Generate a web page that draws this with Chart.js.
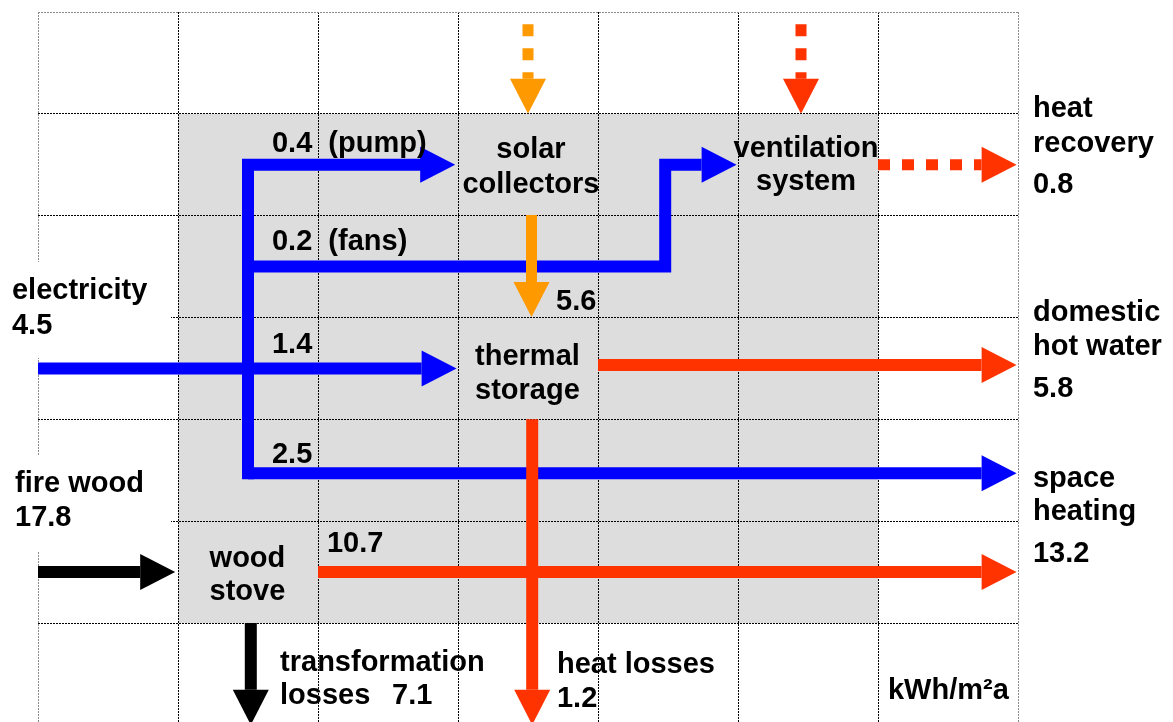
<!DOCTYPE html>
<html>
<head>
<meta charset="utf-8">
<script src="https://cdn.jsdelivr.net/npm/chart.js@4.4.1/dist/chart.umd.min.js"></script>
<style>
  html, body { margin: 0; padding: 0; background: #fff; }
</style>
</head>
<body>
<canvas id="flowChart" width="1173" height="722"></canvas>
<script>
// energy flows in kWh/m²a
const inputNames = ['electricity', 'fire wood'];
const inputValues = [4.5, 17.8];
const outputNames = [['heat', 'recovery'], ['domestic', 'hot water'], ['space', 'heating']];
const outputValues = [0.8, 5.8, 13.2];
const flowNames = ['(pump)', '(fans)'];
const flowValues = [0.4, 0.2, 1.4, 2.5, 5.6, 10.7];
const lossNames = ['transformation', 'losses', 'heat losses'];
const lossValues = [7.1, 1.2];
const unitNames = [['solar', 'collectors'], ['ventilation', 'system'], ['thermal', 'storage'], ['wood', 'stove']];

// flow paths, in grid cells (column, row), last point = arrow tip
const recoveryPath = [[6.0, 1.5], [6.99, 1.5]];
const ventInPath = [[5.45, 0.12], [5.45, 1.0]];
const hotWaterPath = [[4.0, 3.467], [6.99, 3.467]];
const heatLossPath = [[3.53, 4.0], [3.53, 7.0]];
const stovePath = [[2.0, 5.5], [6.99, 5.5]];
const solarInPath = [[3.5, 0.12], [3.5, 1.0]];
const solarOutPath = [[3.525, 1.993], [3.525, 2.995]];
const pumpPath = [[1.5, 4.53], [1.5, 1.5], [2.98, 1.5]];
const fansPath = [[1.5, 2.5], [4.48, 2.5], [4.48, 1.5], [4.99, 1.5]];
const elecPath = [[0, 3.5], [2.99, 3.5]];
const heatingPath = [[1.5, 4.53], [6.99, 4.53]];
const woodPath = [[0, 5.5], [0.98, 5.5]];
const woodLossPath = [[1.52, 6.0], [1.52, 7.0]];

const BLUE = '#0000ff', RED = '#ff3300', ORANGE = '#ff9900', BLACK = '#000000';
const HEAD_LEN = 35, HEAD_HALF = 18;
const FONT = 'bold 29px "Liberation Sans", Arial, sans-serif';

const v = n => n.toFixed(1);

// text: [text, col, row (baseline), align]
const textItems = [
  [v(flowValues[0]) + '  ' + flowNames[0], 1.671, 1.375, 'left'],
  [unitNames[0][0], 3.521, 1.434, 'center'],
  [unitNames[0][1], 3.521, 1.777, 'center'],
  [unitNames[1][0], 5.486, 1.424, 'center'],
  [unitNames[1][1], 5.486, 1.748, 'center'],
  [outputNames[0][0], 7.107, 1.031, 'left'],
  [outputNames[0][1], 7.107, 1.375, 'left'],
  [v(outputValues[0]), 7.107, 1.777, 'left'],
  [v(flowValues[1]) + '  ' + flowNames[1], 1.671, 2.337, 'left'],
  [inputNames[0], -0.186, 2.818, 'left'],
  [v(inputValues[0]), -0.186, 3.162, 'left'],
  [v(flowValues[4]), 3.7, 2.926, 'left'],
  [v(flowValues[2]), 1.671, 3.349, 'left'],
  [unitNames[2][0], 3.496, 3.467, 'center'],
  [unitNames[2][1], 3.496, 3.80, 'center'],
  [outputNames[1][0], 7.107, 3.034, 'left'],
  [outputNames[1][1], 7.107, 3.368, 'left'],
  [v(outputValues[1]), 7.107, 3.781, 'left'],
  [v(flowValues[3]), 1.671, 4.429, 'left'],
  [inputNames[1], -0.164, 4.714, 'left'],
  [v(inputValues[1]), -0.164, 5.048, 'left'],
  [outputNames[2][0], 7.107, 4.665, 'left'],
  [outputNames[2][1], 7.107, 4.989, 'left'],
  [v(outputValues[2]), 7.107, 5.401, 'left'],
  [unitNames[3][0], 1.496, 5.45, 'center'],
  [unitNames[3][1], 1.496, 5.774, 'center'],
  [v(flowValues[5]), 2.064, 5.303, 'left'],
  [lossNames[0], 1.729, 6.472, 'left'],
  [lossNames[1], 1.729, 6.796, 'left'],
  [v(lossValues[0]), 2.529, 6.796, 'left'],
  [lossNames[2], 3.707, 6.491, 'left'],
  [v(lossValues[1]), 3.707, 6.825, 'left'],
  ['kWh/m²a', 6.071, 6.747, 'left']
];
// white boxes behind the input labels: [col0, row0, col1, row1]
const labelBoxes = [[-0.236, 2.455, 0.95, 3.398], [-0.236, 4.35, 0.95, 5.293]];

function flow(path, color, extra) {
  return Object.assign({
    data: path.map(p => ({ x: p[0], y: p[1] })),
    showLine: true,
    borderColor: color,
    backgroundColor: color,
    borderWidth: 12,
    pointRadius: 0,
    borderJoinStyle: 'miter',
    tension: 0,
    fill: false,
    arrow: true
  }, extra);
}

const dashed = { borderDash: [12, 12], borderWidth: 11 };

// gray system box behind the grid
const systemBox = {
  id: 'systemBox',
  beforeDraw(chart) {
    const { ctx, scales: { x, y } } = chart;
    ctx.save();
    ctx.fillStyle = '#dddddd';
    const x0 = x.getPixelForValue(1), y0 = y.getPixelForValue(1);
    ctx.fillRect(x0, y0, x.getPixelForValue(6) - x0, y.getPixelForValue(6) - y0);
    ctx.restore();
  }
};

// line ends at the arrow base, triangle drawn up to the tip
const arrowHeads = {
  id: 'arrowHeads',
  afterDatasetUpdate(chart, args) {
    const ds = chart.data.datasets[args.index];
    const pts = args.meta.data;
    if (!ds.arrow || pts.length < 2) return;
    const tip = pts[pts.length - 1], prev = pts[pts.length - 2];
    const len = Math.hypot(tip.x - prev.x, tip.y - prev.y);
    const ux = (tip.x - prev.x) / len, uy = (tip.y - prev.y) / len;
    args.meta.arrowTip = { x: tip.x, y: tip.y, ux: ux, uy: uy };
    tip.x -= ux * HEAD_LEN;
    tip.y -= uy * HEAD_LEN;
  },
  afterDatasetsDraw(chart) {
    const ctx = chart.ctx;
    chart.data.datasets.forEach((ds, i) => {
      const t = chart.getDatasetMeta(i).arrowTip;
      if (!t) return;
      const bx = t.x - t.ux * HEAD_LEN, by = t.y - t.uy * HEAD_LEN;
      ctx.save();
      ctx.fillStyle = ds.borderColor;
      ctx.beginPath();
      ctx.moveTo(t.x, t.y);
      ctx.lineTo(bx - t.uy * HEAD_HALF, by + t.ux * HEAD_HALF);
      ctx.lineTo(bx + t.uy * HEAD_HALF, by - t.ux * HEAD_HALF);
      ctx.closePath();
      ctx.fill();
      ctx.restore();
    });
  }
};

const labels = {
  id: 'labels',
  afterDraw(chart) {
    const { ctx, scales: { x, y } } = chart;
    ctx.save();
    ctx.fillStyle = '#ffffff';
    labelBoxes.forEach(b => {
      const x0 = x.getPixelForValue(b[0]), y0 = y.getPixelForValue(b[1]);
      ctx.fillRect(x0, y0, x.getPixelForValue(b[2]) - x0, y.getPixelForValue(b[3]) - y0);
    });
    ctx.font = FONT;
    ctx.fillStyle = '#000000';
    ctx.textBaseline = 'alphabetic';
    textItems.forEach(t => {
      ctx.textAlign = t[3];
      ctx.fillText(t[0], x.getPixelForValue(t[1]), y.getPixelForValue(t[2]));
    });
    ctx.restore();
  }
};

const edgeColor = ctx => (ctx.tick && (ctx.tick.value === 0 || ctx.tick.value === 7)) ? '#8a8a8a' : '#000000';

new Chart(document.getElementById('flowChart'), {
  type: 'scatter',
  data: {
    datasets: [
      flow(recoveryPath, RED, dashed),
      flow(ventInPath, RED, dashed),
      flow(hotWaterPath, RED),
      flow(heatLossPath, RED),
      flow(stovePath, RED),
      flow(solarInPath, ORANGE, dashed),
      flow(solarOutPath, ORANGE, { borderWidth: 11 }),
      flow(pumpPath, BLUE, { borderCapStyle: 'square' }),
      flow(fansPath, BLUE),
      flow(elecPath, BLUE),
      flow(heatingPath, BLUE),
      flow(woodPath, BLACK),
      flow(woodLossPath, BLACK)
    ]
  },
  options: {
    responsive: false,
    animation: false,
    devicePixelRatio: 1,
    events: [],
    layout: { padding: { left: 38, top: 12, right: 155, bottom: 0 } },
    plugins: { legend: { display: false }, tooltip: { enabled: false } },
    scales: {
      x: {
        type: 'linear', min: 0, max: 7,
        ticks: { display: false, stepSize: 1 },
        grid: { color: edgeColor, lineWidth: 1, drawTicks: false },
        border: { display: false, dash: [2, 1] },
        afterFit: s => { s.height = 0; }
      },
      y: {
        type: 'linear', reverse: true, min: 0, max: 6.972,
        ticks: { display: false, stepSize: 1, includeBounds: false },
        grid: { color: edgeColor, lineWidth: 1, drawTicks: false },
        border: { display: false, dash: [2, 1] },
        afterFit: s => { s.height = undefined; s.width = 0; }
      }
    }
  },
  plugins: [systemBox, arrowHeads, labels]
});
</script>
</body>
</html>
